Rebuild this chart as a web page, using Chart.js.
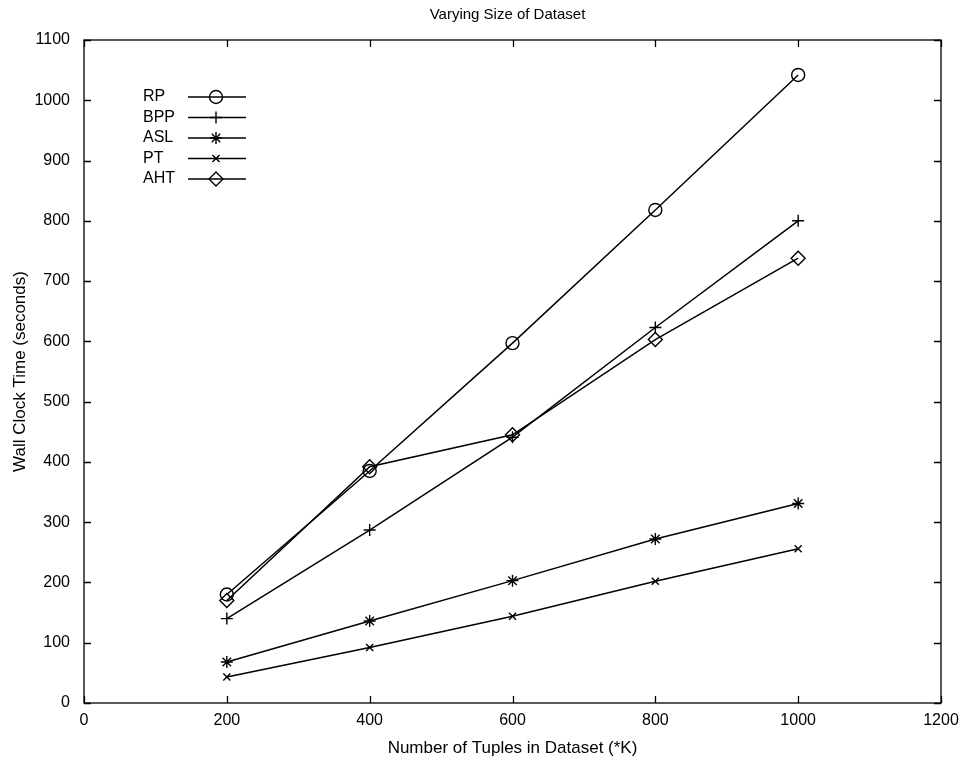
<!DOCTYPE html>
<html>
<head>
<meta charset="utf-8">
<title>Varying Size of Dataset</title>
<script src="https://cdn.jsdelivr.net/npm/chart.js@4"></script>
<style>
    html, body { margin: 0; padding: 0; background: #fff; }
    #wrap { width: 969px; height: 759px; position: relative; }
</style>
</head>
<body>
<div id="wrap"><canvas id="sizeChart"></canvas></div>
<script>
// dataset size (*K tuples) and wall clock time per method
const sizes = [200, 400, 600, 800, 1000];
const rpTimes = [180, 385, 597, 818, 1042];
const bppTimes = [140, 287, 441, 623, 800];
const aslTimes = [68, 136, 203, 272, 331];
const ptTimes = [43, 92, 144, 202, 256];
const ahtTimes = [170, 392, 445, 603, 738];

const methodNames = ['RP', 'BPP', 'ASL', 'PT', 'AHT'];
const methodMarkers = ['circle', 'cross', 'star', 'crossRot', 'rectRot'];
const markerSizes = [6.5, 6, 6, 5, 7];

const xTicks = [0, 200, 400, 600, 800, 1000, 1200];
const yTicks = [0, 100, 200, 300, 400, 500, 600, 700, 800, 900, 1000, 1100];

const FONT = "'Liberation Sans', Arial, Helvetica, sans-serif";

function toPoints(values) {
    return sizes.map((s, i) => ({ x: s, y: values[i] }));
}

const series = [rpTimes, bppTimes, aslTimes, ptTimes, ahtTimes];
const datasets = series.map((vals, i) => ({
    label: methodNames[i],
    data: toPoints(vals),
    borderColor: '#000',
    borderWidth: 1.5,
    backgroundColor: 'rgba(0,0,0,0)',
    pointStyle: methodMarkers[i],
    pointRadius: markerSizes[i],
    pointBorderColor: '#000',
    pointBackgroundColor: 'rgba(0,0,0,0)',
    pointBorderWidth: 1.4,
    tension: 0,
    fill: false
}));

// box around the axes with inward tick marks on all four sides
const framePlugin = {
    id: 'frame',
    afterDraw(chart) {
        const { ctx, chartArea: a, scales } = chart;
        const len = 7;
        ctx.save();
        ctx.strokeStyle = '#000';
        ctx.lineWidth = 1.3;
        ctx.strokeRect(a.left, a.top, a.right - a.left, a.bottom - a.top);
        ctx.beginPath();
        xTicks.forEach(v => {
            const px = Math.round(scales.x.getPixelForValue(v)) + 0.5;
            ctx.moveTo(px, a.bottom); ctx.lineTo(px, a.bottom - len);
            ctx.moveTo(px, a.top); ctx.lineTo(px, a.top + len);
        });
        yTicks.forEach(v => {
            const py = Math.round(scales.y.getPixelForValue(v)) + 0.5;
            ctx.moveTo(a.left, py); ctx.lineTo(a.left + len, py);
            ctx.moveTo(a.right, py); ctx.lineTo(a.right - len, py);
        });
        ctx.stroke();

        // title above the box
        ctx.fillStyle = '#000';
        ctx.font = '15px ' + FONT;
        ctx.textAlign = 'center';
        ctx.textBaseline = 'middle';
        ctx.fillText('Varying Size of Dataset', (a.left + a.right) / 2 - 5, 15);
        ctx.restore();
    }
};

// legend inside the upper left corner: label, then a line sample with its marker
const insideLegend = {
    id: 'insideLegend',
    afterDraw(chart) {
        const ctx = chart.ctx;
        ctx.save();
        ctx.font = '16px ' + FONT;
        ctx.textAlign = 'left';
        ctx.textBaseline = 'middle';
        ctx.strokeStyle = '#000';
        chart.data.datasets.forEach((ds, i) => {
            const y = 97 + i * 20.5;
            ctx.fillStyle = '#000';
            ctx.fillText(ds.label, 143, y);
            ctx.lineWidth = 1.3;
            ctx.beginPath();
            ctx.moveTo(188, y);
            ctx.lineTo(246, y);
            ctx.stroke();
            ctx.lineWidth = 1.4;
            ctx.fillStyle = 'rgba(0,0,0,0)';
            Chart.helpers.drawPoint(ctx, {
                pointStyle: ds.pointStyle,
                radius: ds.pointRadius,
                borderWidth: 1.4,
                rotation: 0
            }, 216, y);
        });
        ctx.restore();
    }
};

new Chart(document.getElementById('sizeChart'), {
    type: 'line',
    data: { datasets: datasets },
    plugins: [framePlugin, insideLegend],
    options: {
        responsive: true,
        maintainAspectRatio: false,
        animation: false,
        layout: { padding: { top: 40, right: 28, left: 10, bottom: 0 } },
        plugins: {
            legend: { display: false },
            title: { display: false },
            tooltip: { enabled: false }
        },
        scales: {
            x: {
                type: 'linear',
                min: 0,
                max: 1200,
                afterBuildTicks(scale) { scale.ticks = xTicks.map(v => ({ value: v })); },
                afterFit(scale) { scale.height = 56; },
                ticks: {
                    color: '#000',
                    font: { family: FONT, size: 16 },
                    padding: 0,
                    maxRotation: 0,
                    callback: v => String(v)
                },
                grid: { display: false },
                border: { display: false },
                title: {
                    display: true,
                    text: 'Number of Tuples in Dataset (*K)',
                    color: '#000',
                    font: { family: FONT, size: 17 },
                    padding: { top: 2, bottom: 0 }
                }
            },
            y: {
                type: 'linear',
                min: 0,
                max: 1100,
                afterBuildTicks(scale) { scale.ticks = yTicks.map(v => ({ value: v })); },
                afterFit(scale) { scale.width = 74; },
                ticks: {
                    color: '#000',
                    font: { family: FONT, size: 16 },
                    padding: 6,
                    callback: v => String(v)
                },
                grid: { display: false },
                border: { display: false },
                title: {
                    display: true,
                    text: 'Wall Clock Time (seconds)',
                    color: '#000',
                    font: { family: FONT, size: 17 },
                    padding: { top: 0, bottom: 0 }
                }
            }
        }
    }
});
</script>
</body>
</html>
